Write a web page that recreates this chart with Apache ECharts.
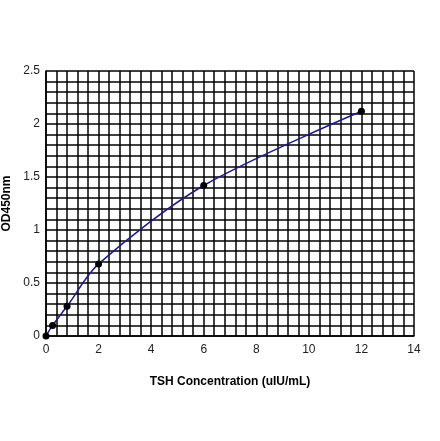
<!DOCTYPE html><html><head><meta charset="utf-8"><script src="https://cdn.jsdelivr.net/npm/echarts@6/dist/echarts.min.js"></script></head><body style="margin:0"><div id="c" style="width:440px;height:441px"></div><script>
const conc=[0,0.25,0.8,2,6,12];
const od=[0,0.1,0.28,0.68,1.42,2.12];
const xTicks=[0,2,4,6,8,10,12,14];
const yTicks=[0,0.5,1,1.5,2,2.5];
const near=(v,arr)=>arr.some(t=>Math.abs(t-v)<1e-6);
const ch=echarts.init(document.getElementById('c'));
ch.setOption({animation:false,
grid:{left:46,right:26,top:71,bottom:105,containLabel:false,outerBoundsMode:'none'},
xAxis:{type:'value',min:0,max:14,interval:0.4,
 name:'TSH Concentration (uIU/mL)',nameLocation:'middle',nameGap:40,
 nameTextStyle:{fontFamily:'Liberation Sans',fontWeight:'bold',fontSize:12,color:'#000'},
 axisLine:{lineStyle:{color:'#000',width:1.5}},axisTick:{show:false},
 axisLabel:{fontFamily:'Liberation Sans',fontSize:12,color:'#222',margin:8,formatter:v=>near(v,xTicks)?String(Math.round(v)):''},
 splitLine:{lineStyle:{color:'#000',width:1.5}}},
yAxis:{type:'value',min:0,max:2.5,interval:0.1,
 name:'OD450nm',nameLocation:'middle',nameGap:30,nameRotate:90,
 nameTextStyle:{fontFamily:'Liberation Sans',fontWeight:'bold',fontSize:12,color:'#000'},
 axisLine:{show:true,lineStyle:{color:'#000',width:1.5}},axisTick:{show:false},
 axisLabel:{fontFamily:'Liberation Sans',fontSize:12,color:'#222',margin:6,formatter:v=>near(v,yTicks)?String(Math.round(v*10)/10):''},
 splitLine:{lineStyle:{color:'#000',width:1.5}}},
series:[{type:'line',data:conc.map((x,i)=>[x,od[i]]),smooth:0.3,symbol:'circle',symbolSize:7,
 lineStyle:{color:'#1a1a8c',width:1.5},itemStyle:{color:'#000'}}]});
</script></body></html>
